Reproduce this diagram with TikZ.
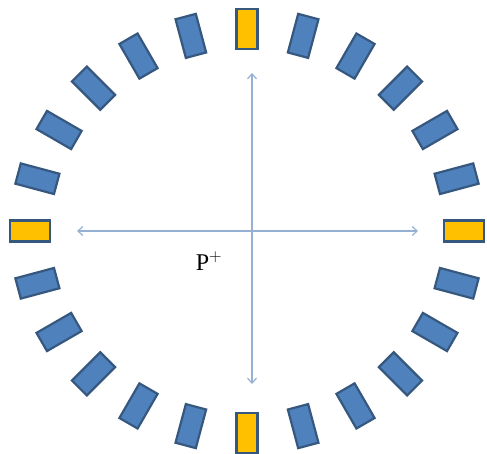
\documentclass[tikz,border=0pt]{standalone}
\usepackage{fontspec}
\setmainfont{Liberation Serif}
\usetikzlibrary{arrows.meta,calc}
\definecolor{blockblue}{HTML}{4F81BD}
\definecolor{blockedge}{HTML}{36587F}
\definecolor{blockyellow}{HTML}{FFC000}
\definecolor{axisblue}{HTML}{95B0D2}
\begin{document}
\begin{tikzpicture}[x=1pt, y=1pt,
		block/.style={draw=blockedge, line width=2.2pt, fill=blockblue, minimum width=21pt, minimum height=40pt, inner sep=0pt},
		marker/.style={block, fill=blockyellow},
		axis/.style={draw=axisblue, line width=1.2pt, {Straight Barb[length=5pt,width=9pt]}-{Straight Barb[length=5pt,width=9pt]}}]
		\useasboundingbox (0,0) rectangle (487,453);
		\coordinate (O) at (247,222);
		% ring of blocks, yellow every 90 degrees
		\foreach \t in {0,15,...,345}{
			\pgfmathtruncatemacro{\q}{mod(\t,90)}
			\ifnum\q=0
				\node[marker, rotate=-\t] (b\t) at ($(O)+({217*sin(\t)},{202*cos(\t)})$) {};
			\else
				\node[block, rotate=-\t] (b\t) at ($(O)+({217*sin(\t)},{202*cos(\t)})$) {};
			\fi
		}
		% axes
		\coordinate (top) at (252,380);
		\coordinate (bot) at (252,69);
		\coordinate (lft) at (77,222);
		\coordinate (rgt) at (418,222);
		\draw[axis] (bot) -- (top);
		\draw[axis] (lft) -- (rgt);
		\node[font=\fontsize{24}{28}\selectfont] (P) at (209,192) {P$^{+}$};
	\end{tikzpicture}
\end{document}
